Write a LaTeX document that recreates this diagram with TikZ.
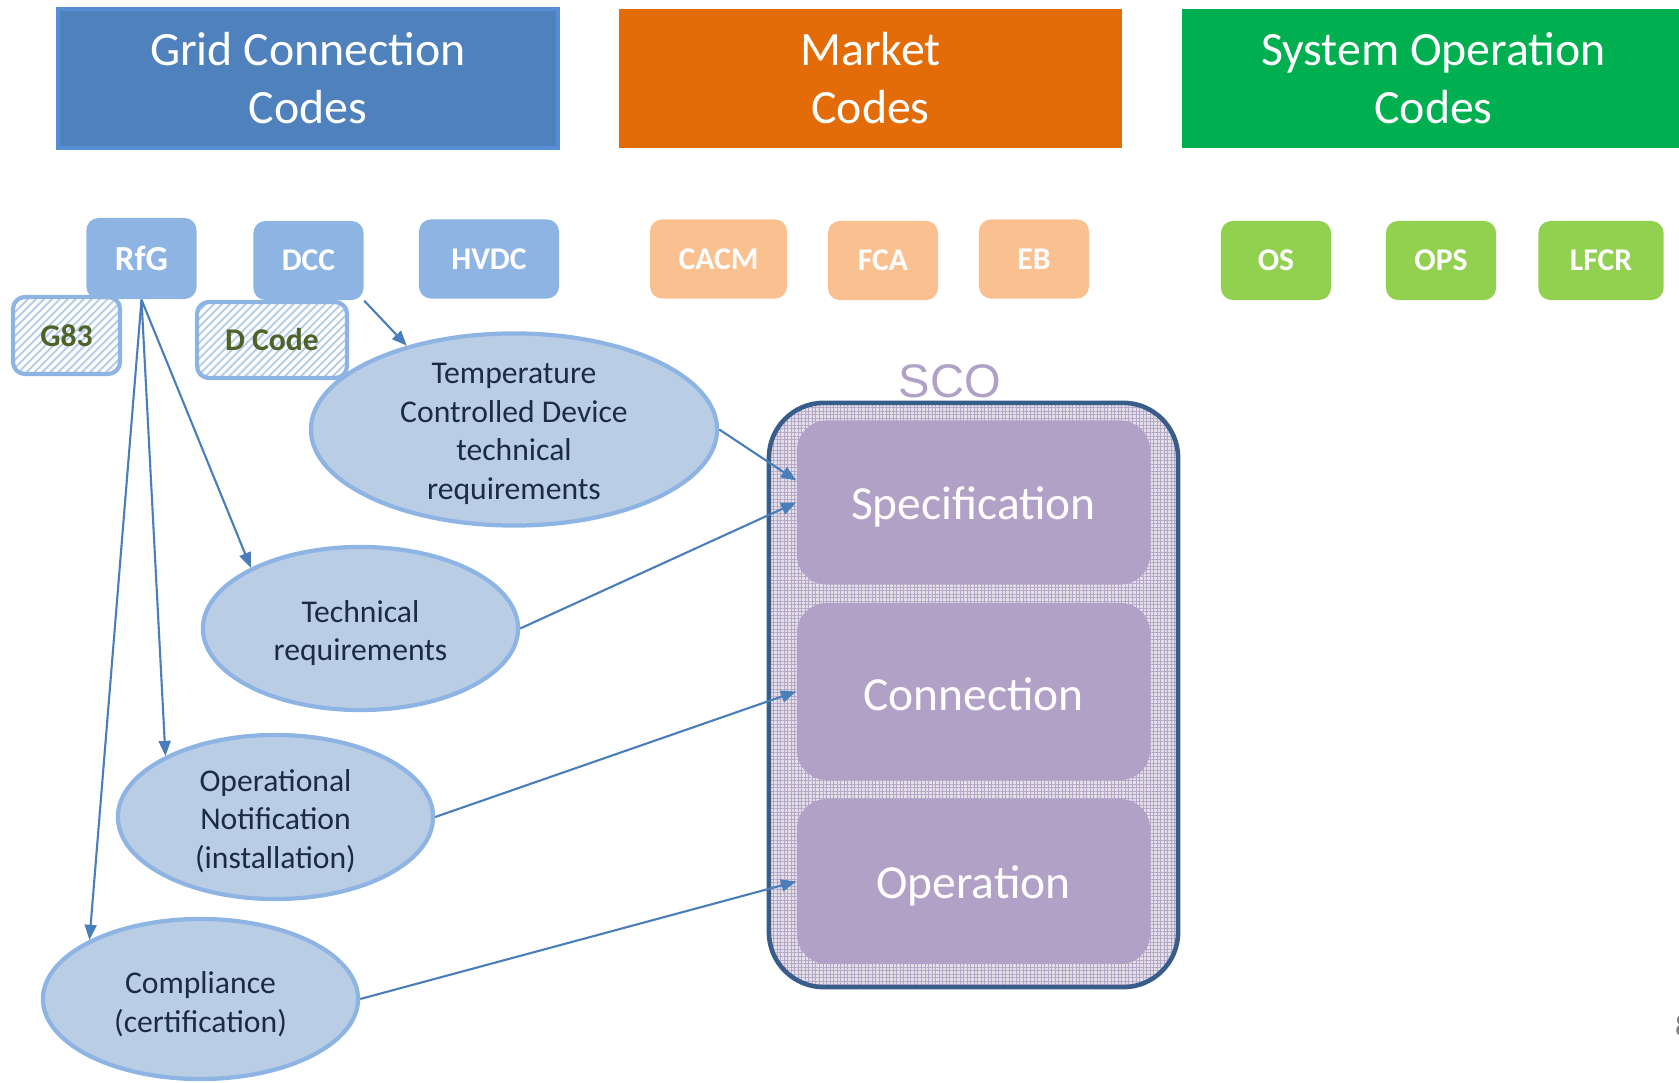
\documentclass[tikz,border=0pt]{standalone}
\usepackage{fontspec}
\setmainfont{Carlito}
\newfontfamily\arialf{Liberation Sans}
\usetikzlibrary{shapes.geometric,arrows.meta,patterns.meta}
\definecolor{gridfill}{HTML}{4F81BD}
\definecolor{gridline}{HTML}{558ED5}
\definecolor{marketfill}{HTML}{E36C09}
\definecolor{sysfill}{HTML}{00B050}
\definecolor{smallblue}{HTML}{8EB4E3}
\definecolor{peach}{HTML}{FAC090}
\definecolor{lightgreen}{HTML}{92D050}
\definecolor{ellfill}{HTML}{B9CDE5}
\definecolor{elltext}{HTML}{1C2A48}
\definecolor{olive}{HTML}{4F6228}
\definecolor{hatch}{HTML}{B4CBEA}
\definecolor{arrowc}{HTML}{4A7EBB}
\definecolor{scoline}{HTML}{385D8A}
\definecolor{scofill}{HTML}{E4E0EA}
\definecolor{scogrid}{HTML}{B4A8C6}
\definecolor{purple}{HTML}{B2A1C7}
\begin{document}
\begin{tikzpicture}[x=0.01cm,y=-0.01cm,
  titlebox/.style={rectangle,minimum height=1.39cm,text=white,align=center,
    font=\fontsize{13.6}{16.5}\selectfont,inner sep=0pt},
  smallbox/.style={rectangle,rounded corners=0.12cm,minimum height=0.79cm,
    minimum width=1.1cm,text=white,font=\bfseries\fontsize{9}{11}\selectfont,inner sep=0pt},
  hatchbox/.style={rectangle,rounded corners=0.12cm,draw=smallblue,line width=1.2pt,
    pattern={Lines[angle=45,distance=1.6pt,line width=0.55pt]},pattern color=hatch,
    text=olive,font=\bfseries\fontsize{9}{11}\selectfont,inner sep=0pt},
  ell/.style={ellipse,fill=ellfill,draw=smallblue,line width=1.2pt,inner sep=0pt},
  elltxt/.style={inner sep=0pt,text=elltext,align=center,font=\fontsize{9}{11}\selectfont},
  phase/.style={rectangle,rounded corners=0.3cm,fill=purple,minimum width=3.53cm,inner sep=0pt},
  phasetxt/.style={inner sep=0pt,text=white,font=\fontsize{13.5}{16}\selectfont},
  conn/.style={draw=arrowc,line width=0.6pt,-{Triangle[length=4.3pt,width=3.4pt]}}
]
\useasboundingbox (0,0) rectangle (1679,1083);

% title boxes
\node[titlebox,fill=gridfill,draw=gridline,line width=1pt,minimum width=5.0cm] (grid) at (308,78.5) {Grid Connection\\Codes};
\node[titlebox,fill=marketfill,minimum width=5.03cm] (market) at (870.5,78.5) {Market\\Codes};
\node[titlebox,fill=sysfill,minimum width=5.03cm] (system) at (1433.5,78.5) {System Operation\\Codes};

% hatched boxes (behind)
\node[hatchbox,minimum width=1.07cm,minimum height=0.77cm] (g83) at (66.5,335.5) {G83};
\node[hatchbox,minimum width=1.5cm,minimum height=0.76cm] (dcode) at (272,340) {D Code};

% small code boxes
\node[smallbox,fill=smallblue,font=\bfseries\fontsize{10}{12}\selectfont,minimum height=0.81cm] (rfg) at (141.5,258.5) {RfG};
\node[smallbox,fill=smallblue] (dcc) at (308.5,260.5) {DCC};
\node[smallbox,fill=smallblue,minimum width=1.4cm] (hvdc) at (489,259) {HVDC};
\node[smallbox,fill=peach,minimum width=1.37cm] (cacm) at (718.5,259) {CACM};
\node[smallbox,fill=peach] (fca) at (883,260.5) {FCA};
\node[smallbox,fill=peach] (eb) at (1034,259) {EB};
\node[smallbox,fill=lightgreen] (os) at (1276,260.5) {OS};
\node[smallbox,fill=lightgreen] (ops) at (1441,260.5) {OPS};
\node[smallbox,fill=lightgreen,minimum width=1.25cm] (lfcr) at (1601,260.5) {LFCR};

% ellipses
\node[ell,minimum width=4.06cm,minimum height=1.92cm] (temp) at (514,429.5) {};
\node[elltxt] (temptxt) at (514,434) {Temperature\\Controlled Device\\technical\\requirements};
\node[ell,minimum width=3.15cm,minimum height=1.63cm] (tech) at (360.5,628.5) {};
\node[elltxt] (techtxt) at (360.5,633) {Technical\\requirements};
\node[ell,minimum width=3.15cm,minimum height=1.64cm] (oper) at (275.5,817) {};
\node[elltxt] (opertxt) at (275.5,821) {Operational\\Notification\\(installation)};
\node[ell,minimum width=3.15cm,minimum height=1.6cm] (comp) at (200.5,999) {};
\node[elltxt] (comptxt) at (200.5,1004) {Compliance\\(certification)};

% SCO container
\node[rectangle,rounded corners=0.55cm,draw=scoline,line width=1.3pt,
  preaction={fill=scofill},
  preaction={pattern={Hatch[angle=0,distance=1pt,line width=0.22pt]},pattern color=scogrid},
  minimum width=4.09cm,minimum height=5.84cm,inner sep=0pt] (sco) at (973.5,695) {};
\node[text=purple,font=\arialf\fontsize{13.4}{16}\selectfont,inner sep=0pt] (scolabel) at (950,381) {SCO};
\node[phase,minimum height=1.64cm] (spec) at (973.5,502.5) {};
\node[phasetxt] (spectxt) at (973.5,506.5) {Specification};
\node[phase,minimum height=1.77cm] (cnx) at (973.5,691.5) {};
\node[phasetxt] (cnxtxt) at (973.5,694) {Connection};
\node[phase,minimum height=1.65cm] (opn) at (973.5,881.5) {};
\node[phasetxt] (opntxt) at (973.5,885.5) {Operation};

% page number (cut by the page edge)
\node[text=gray,font=\fontsize{9}{11}\selectfont,inner sep=0pt] (pnum) at (1683,1026) {8};

% connectors
\draw[conn] (dcc.south east) -- (temp.142);
\draw[conn] (rfg.south) -- (tech.151);
\draw[conn] (rfg.south) -- (oper.151);
\draw[conn] (rfg.south) -- (comp.152);
\draw[conn] (temp.east) -- ([yshift=0.22cm]spec.west);
\draw[conn] (tech.east) -- (spec.west);
\draw[conn] (oper.east) -- (cnx.west);
\draw[conn] (comp.east) -- (opn.west);
\end{tikzpicture}
\end{document}
